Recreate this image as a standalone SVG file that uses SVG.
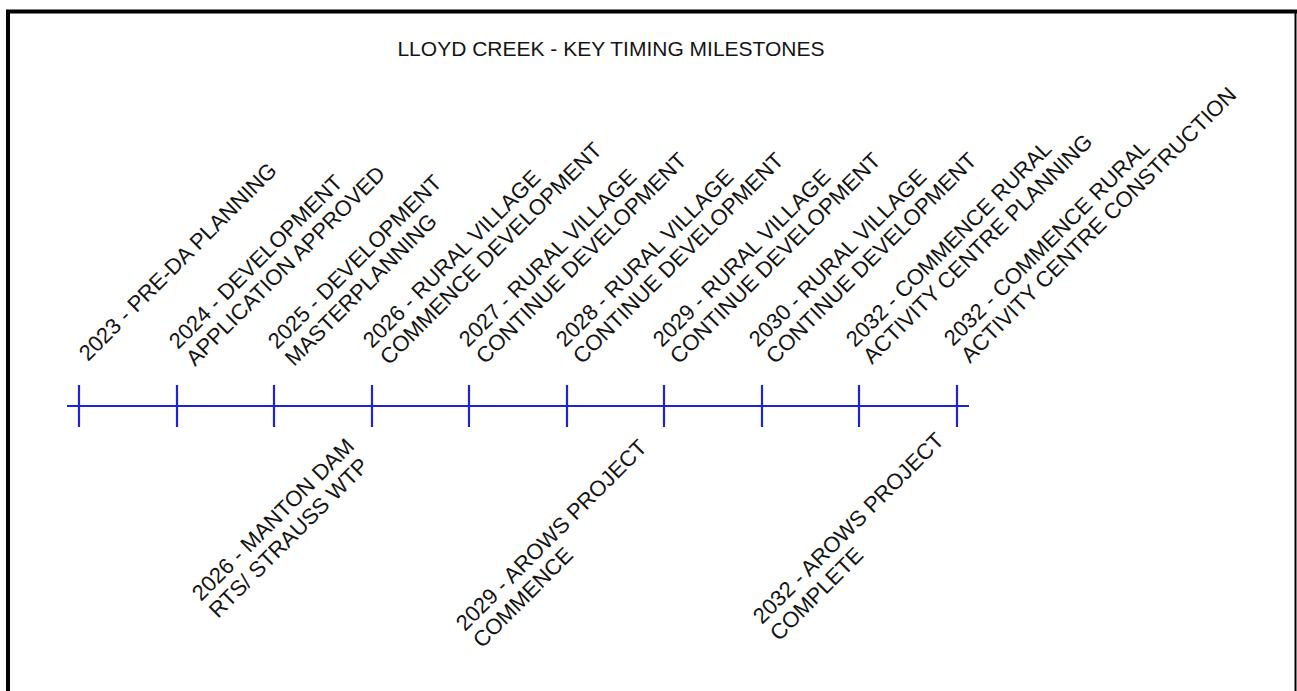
<svg xmlns="http://www.w3.org/2000/svg" width="1297" height="691" viewBox="0 0 1297 691">
<style>
.lbl{font-family:"Liberation Sans",Arial,Helvetica,sans-serif;font-size:22px;fill:#141414}
.title{font-family:"Liberation Sans",Arial,Helvetica,sans-serif;font-size:21px;fill:#141414}
.axis{stroke:#2020e0;stroke-width:2.2;fill:none}
</style>
<rect width="1297" height="691" fill="#ffffff"/>
<g id="frame" fill="none" stroke="#000">
<line x1="6" y1="11.5" x2="1297" y2="11.5" stroke-width="4"/>
<line x1="8" y1="10" x2="8" y2="691" stroke-width="4"/>
<line x1="1295.5" y1="10" x2="1295.5" y2="691" stroke-width="2"/>
</g>
<text id="title" class="title" x="611" y="56" text-anchor="middle">LLOYD CREEK - KEY TIMING MILESTONES</text>
<g id="connectors" class="axis">
<line x1="67" y1="406" x2="969" y2="406"/>
<line x1="79" y1="385" x2="79" y2="427"/>
<line x1="177" y1="385" x2="177" y2="427"/>
<line x1="274" y1="385" x2="274" y2="427"/>
<line x1="372" y1="385" x2="372" y2="427"/>
<line x1="469" y1="385" x2="469" y2="427"/>
<line x1="567" y1="385" x2="567" y2="427"/>
<line x1="664" y1="385" x2="664" y2="427"/>
<line x1="762" y1="385" x2="762" y2="427"/>
<line x1="859" y1="385" x2="859" y2="427"/>
<line x1="957" y1="385" x2="957" y2="427"/>
</g>
<g id="m2023"><text class="lbl" transform="translate(88,362) rotate(-45)">2023 - PRE-DA PLANNING</text></g>
<g id="m2024"><text class="lbl" transform="translate(178,350) rotate(-45)"><tspan x="0" y="0">2024 - DEVELOPMENT</tspan><tspan x="0" y="24">APPLICATION APPROVED</tspan></text></g>
<g id="m2025"><text class="lbl" transform="translate(277,350) rotate(-45)"><tspan x="0" y="0">2025 - DEVELOPMENT</tspan><tspan x="0" y="24">MASTERPLANNING</tspan></text></g>
<g id="m2026"><text class="lbl" transform="translate(372,349) rotate(-45)"><tspan x="0" y="0">2026 - RURAL VILLAGE</tspan><tspan x="0" y="24">COMMENCE DEVELOPMENT</tspan></text></g>
<g id="m2027"><text class="lbl" transform="translate(468,348) rotate(-45)"><tspan x="0" y="0">2027 - RURAL VILLAGE</tspan><tspan x="0" y="24">CONTINUE DEVELOPMENT</tspan></text></g>
<g id="m2028"><text class="lbl" transform="translate(565,348) rotate(-45)"><tspan x="0" y="0">2028 - RURAL VILLAGE</tspan><tspan x="0" y="24">CONTINUE DEVELOPMENT</tspan></text></g>
<g id="m2029"><text class="lbl" transform="translate(662,348) rotate(-45)"><tspan x="0" y="0">2029 - RURAL VILLAGE</tspan><tspan x="0" y="24">CONTINUE DEVELOPMENT</tspan></text></g>
<g id="m2030"><text class="lbl" transform="translate(758,348) rotate(-45)"><tspan x="0" y="0">2030 - RURAL VILLAGE</tspan><tspan x="0" y="24">CONTINUE DEVELOPMENT</tspan></text></g>
<g id="m2032a"><text class="lbl" transform="translate(855,348) rotate(-45)"><tspan x="0" y="0">2032 - COMMENCE RURAL</tspan><tspan x="0" y="24">ACTIVITY CENTRE PLANNING</tspan></text></g>
<g id="m2032b"><text class="lbl" transform="translate(953,347) rotate(-45)"><tspan x="0" y="0">2032 - COMMENCE RURAL</tspan><tspan x="0" y="24">ACTIVITY CENTRE CONSTRUCTION</tspan></text></g>
<g id="b2026"><text class="lbl" transform="translate(201,602) rotate(-45)"><tspan x="0" y="0">2026 - MANTON DAM</tspan><tspan x="0" y="24">RTS/ STRAUSS WTP</tspan></text></g>
<g id="b2029"><text class="lbl" transform="translate(465,632) rotate(-45)"><tspan x="0" y="0">2029 - AROWS PROJECT</tspan><tspan x="0" y="24">COMMENCE</tspan></text></g>
<g id="b2032"><text class="lbl" transform="translate(762,625) rotate(-45)"><tspan x="0" y="0">2032 - AROWS PROJECT</tspan><tspan x="0" y="24">COMPLETE</tspan></text></g>
</svg>
